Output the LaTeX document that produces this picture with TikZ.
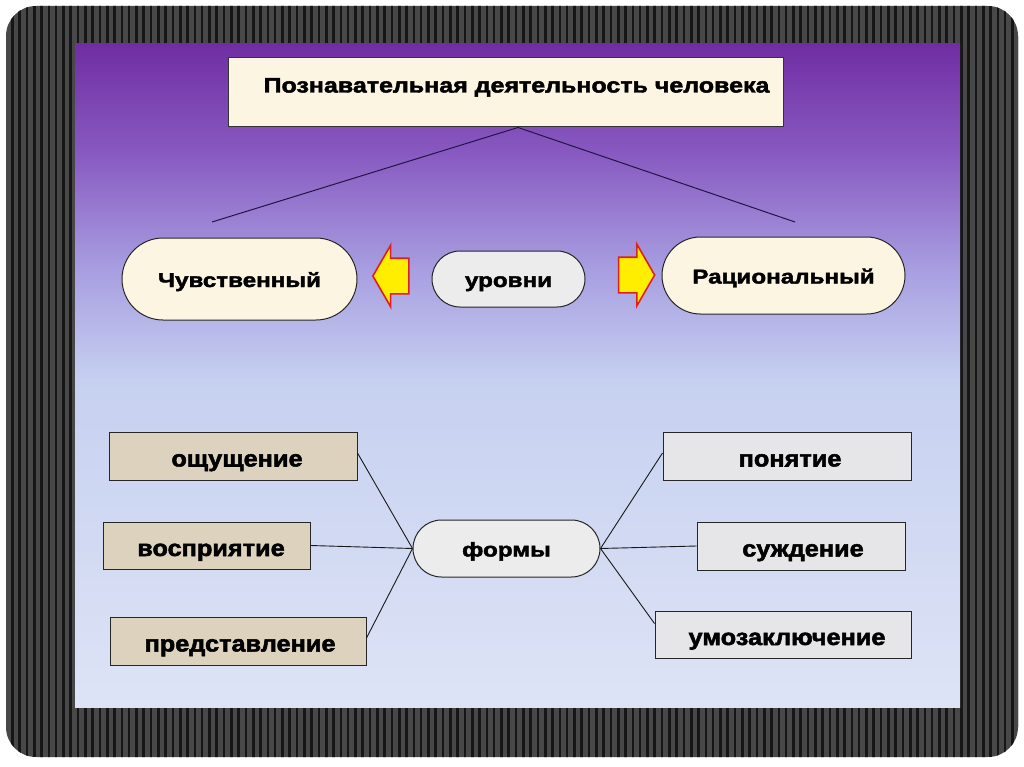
\documentclass[tikz,border=0pt]{standalone}
\usepackage{fontspec}
\setmainfont{Liberation Sans}
\newfontfamily\titlef{Liberation Sans}[FakeStretch=1.19, FakeBold=2.2]
\newfontfamily\pillf{Liberation Sans}[FakeStretch=1.21, FakeBold=2.2]
\newfontfamily\boxf{Liberation Sans}[FakeStretch=1.1, FakeBold=2.2]
\usetikzlibrary{shapes.misc,shapes.arrows}
\definecolor{cTop}{RGB}{112,46,162}
\definecolor{cA}{RGB}{135,88,192}
\definecolor{cB}{RGB}{168,158,225}
\definecolor{cC}{RGB}{198,208,240}
\definecolor{cBot}{RGB}{222,228,246}
\definecolor{frameGray}{RGB}{72,72,72}
\definecolor{stripe}{RGB}{22,22,22}
\definecolor{cream}{RGB}{252,245,226}
\definecolor{pillgray}{RGB}{236,236,236}
\definecolor{tan}{RGB}{220,210,190}
\definecolor{lgray}{RGB}{230,230,232}
\definecolor{arrowYellow}{RGB}{255,238,0}
\definecolor{arrowRed}{RGB}{225,30,30}
\definecolor{lineDark}{RGB}{35,20,70}
\pgfdeclareverticalshading{slidebg}{100bp}{color(0bp)=(cBot); color(25bp)=(cBot); color(49.7bp)=(cC); color(58bp)=(cB); color(67bp)=(cA); color(75bp)=(cTop); color(100bp)=(cTop)}
\tikzset{
  titlebox/.style={font=\titlef\bfseries\fontsize{21}{24}\selectfont, text height=6pt, text depth=6pt,
    draw=black!80, line width=1pt, fill=cream, inner sep=0pt},
  pill/.style={font=\pillf\bfseries\fontsize{20}{24}\selectfont, text height=16pt, text depth=0pt,
    rounded rectangle, draw=black!85, line width=1pt, inner sep=0pt},
  formbox/.style={font=\boxf\bfseries\fontsize{23}{26}\selectfont, text height=21pt, text depth=0pt,
    rectangle, draw=black!85, line width=1pt, inner sep=0pt},
  conn/.style={draw=black!90, line width=0.9pt},
  topline/.style={draw=lineDark, line width=1pt},
  bigarrow/.style={single arrow, draw=arrowRed, fill=arrowYellow, line width=1.6pt,
    inner sep=0pt, inner ysep=17pt, minimum height=36pt, single arrow head extend=13pt,
    single arrow tip angle=120, single arrow head indent=0pt}
}
\begin{document}
\begin{tikzpicture}[x=1pt,y=-1pt]
\useasboundingbox (0,0) rectangle (1024,767);
\fill[white] (0,0) rectangle (1024,767);
\begin{scope}
  \clip[rounded corners=30pt] (6,6) rectangle (1018,757);
  \fill[frameGray] (0,0) rectangle (1024,767);
  \foreach \x in {5,12.3,...,1022} \draw[stripe, line width=2.6pt] (\x,0) -- (\x,767);
\end{scope}
\shade[shading=slidebg] (75,44) rectangle (960,707);

\node[titlebox, minimum width=555pt, minimum height=69pt] (title) at (505.5,92.5) {\hspace*{22pt}Познавательная деятельность человека};
\coordinate (lend) at (212,222);
\coordinate (rend) at (795,222);
\draw[topline] (lend) -- ([xshift=12.5pt]title.south) -- (rend);

\node[pill, fill=cream, minimum width=235pt, minimum height=82pt] (sens) at (239.5,279) {Чувственный};
\node[pill, fill=pillgray, minimum width=153pt, minimum height=56pt] (lev) at (508.5,279) {уровни};
\node[pill, fill=cream, minimum width=243pt, minimum height=77pt] (rat) at (783.5,275.5) {Рациональный};
\node[bigarrow, shape border rotate=180] (la) at (396,276) {};
\node[bigarrow] (ra) at (631.5,275) {};

\node[pill, fill=pillgray, minimum width=187pt, minimum height=57pt] (form) at (506.5,548.5) {формы};

\node[formbox, fill=tan, minimum width=248pt, minimum height=48pt] (l1) at (233,456) {\hspace*{8pt}ощущение};
\node[formbox, fill=tan, minimum width=207pt, minimum height=47pt] (l2) at (206.5,545.5) {\hspace*{9pt}восприятие};
\node[formbox, fill=tan, minimum width=256pt, minimum height=48pt] (l3) at (238,641) {\hspace*{4pt}представление};
\node[formbox, fill=lgray, minimum width=248pt, minimum height=48pt] (r1) at (787,456) {\hspace*{6pt}понятие};
\node[formbox, fill=lgray, minimum width=208pt, minimum height=48pt] (r2) at (801,546) {\hspace*{4pt}суждение};
\node[formbox, fill=lgray, minimum width=256pt, minimum height=47pt] (r3) at (783,634.5) {\hspace*{8pt}умозаключение};

\draw[conn] ([yshift=3pt]l1.east) -- (form.west);
\draw[conn] (l2.east) -- (form.west);
\draw[conn] ([yshift=3pt]l3.east) -- (form.west);
\draw[conn] (form.east) -- ([yshift=3pt]r1.west);
\draw[conn] (form.east) -- (r2.west);
\draw[conn] (form.east) -- ([yshift=11pt]r3.west);
\end{tikzpicture}
\end{document}
